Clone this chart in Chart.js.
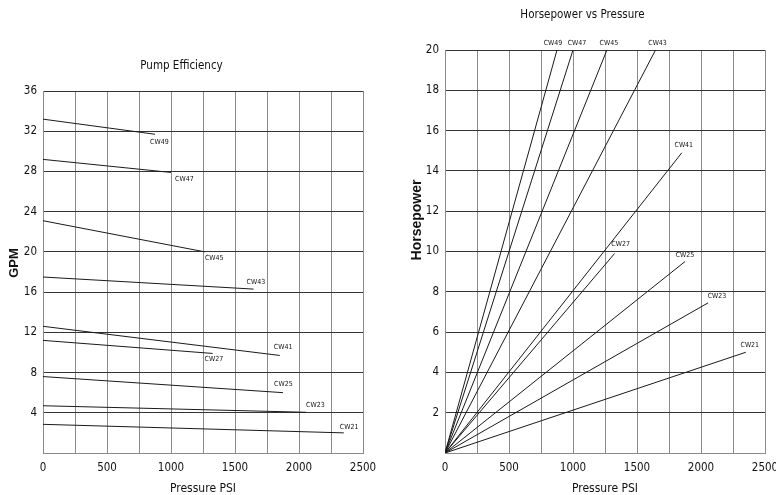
<!DOCTYPE html>
<html>
<head>
<meta charset="utf-8">
<script src="https://cdn.jsdelivr.net/npm/chart.js@4.4.1/dist/chart.umd.min.js"></script>
<style>
    body { margin: 0; background: #fff; }
    .box { position: absolute; top: 0; height: 495px; }
    #leftBox { left: 0; width: 400px; }
    #rightBox { left: 400px; width: 376px; }
</style>
</head>
<body>
<div class="box" id="leftBox"><canvas id="efficiencyChart"></canvas></div>
<div class="box" id="rightBox"><canvas id="horsepowerChart"></canvas></div>
<script>
const models = ['CW49', 'CW47', 'CW45', 'CW43', 'CW41', 'CW27', 'CW25', 'CW23', 'CW21'];
const maxPsi = [875, 1000, 1265, 1645, 1850, 1325, 1875, 2055, 2350];
const gpmAtZero = [33.2, 29.2, 23.1, 17.5, 12.6, 11.2, 7.6, 4.7, 2.85];
const gpmAtMax = [31.7, 27.9, 20.0, 16.3, 9.7, 9.9, 6.0, 4.05, 2.0];
const hpAtMax = [20, 20, 20, 20, 14.9, 9.9, 9.5, 7.45, 5.0];
const psiTicks = [0, 500, 1000, 1500, 2000, 2500];

const narrow = "'Liberation Sans Narrow', 'Arial Narrow', 'DejaVu Sans Condensed', sans-serif";
const plain = "'Liberation Sans', Arial, sans-serif";

// label offsets from the end of each line (pixels)
const effLabelOffsets = [[-5, 8], [4, 7], [0, 6], [-7, -7], [-6, -8], [-8, 6], [-9, -8], [0, -7], [-4, -6]];
const hpLabelOffsets = [[-4, -7], [4, -7], [2, -7], [2, -7], [2, -8], [6, -9], [0, -6], [9, -7], [4, -7]];

const lineLabels = {
    id: 'lineLabels',
    afterDatasetsDraw(chart, args, opts) {
        const ctx = chart.ctx;
        ctx.save();
        ctx.font = '7px ' + narrow;
        ctx.fillStyle = '#111';
        ctx.textAlign = opts.align;
        ctx.textBaseline = 'middle';
        chart.data.datasets.forEach((ds, i) => {
            const last = ds.data[ds.data.length - 1];
            const px = chart.scales.x.getPixelForValue(last.x);
            const py = chart.scales.y.getPixelForValue(last.y);
            const off = opts.offsets[i];
            ctx.fillText(ds.label, px + off[0], py + off[1]);
        });
        ctx.restore();
    }
};

const sideTitle = {
    id: 'sideTitle',
    afterDraw(chart, args, opts) {
        const ctx = chart.ctx;
        ctx.save();
        ctx.translate(opts.x, opts.y);
        ctx.rotate(-Math.PI / 2);
        ctx.font = 'bold ' + opts.size + 'px ' + plain;
        ctx.fillStyle = '#111';
        ctx.textAlign = 'center';
        ctx.textBaseline = 'middle';
        ctx.fillText(opts.text, 0, 0);
        ctx.restore();
    }
};

function xScale() {
    return {
        type: 'linear',
        min: 0,
        max: 2500,
        afterFit: s => {
            s.height = 42;
            s.paddingLeft = 0;
            s.paddingRight = 0;
        },
        ticks: {
            stepSize: 250,
            padding: 8,
            color: '#111',
            font: { family: narrow, size: 11.5 },
            maxRotation: 0,
            autoSkip: false,
            callback: v => psiTicks.includes(v) ? String(v) : ''
        },
        grid: { color: '#8a8a8a', lineWidth: 1, drawTicks: false },
        border: { color: '#8a8a8a' },
        title: {
            display: true,
            text: 'Pressure PSI',
            color: '#111',
            font: { family: narrow, size: 12, lineHeight: 1.2 },
            padding: { top: 0, bottom: -1 }
        }
    };
}

function yScale(max, step, width) {
    return {
        type: 'linear',
        min: 0,
        max: max,
        afterFit: s => { s.width = width; },
        ticks: {
            stepSize: step,
            padding: 6,
            color: '#111',
            font: { family: narrow, size: 11.5 },
            callback: v => v === 0 ? '' : String(v)
        },
        grid: { color: '#333', lineWidth: 1, drawTicks: false },
        border: { color: '#8a8a8a' }
    };
}

function lineSets(endY, startY) {
    return models.map((m, i) => ({
        label: m,
        data: [{ x: 0, y: startY ? startY[i] : 0 }, { x: maxPsi[i], y: endY[i] }],
        borderColor: '#1a1a1a',
        borderWidth: 1,
        pointRadius: 0,
        showLine: true,
        fill: false
    }));
}

document.addEventListener("DOMContentLoaded", function () {
    // ===== Pump Efficiency =====
    new Chart(document.getElementById('efficiencyChart'), {
        type: 'scatter',
        data: { datasets: lineSets(gpmAtMax, gpmAtZero) },
        options: {
            responsive: true,
            maintainAspectRatio: false,
            animation: false,
            layout: { padding: { left: 0, right: 37, top: 0, bottom: 0 } },
            scales: { x: xScale(), y: yScale(36, 4, 43) },
            plugins: {
                legend: { display: false },
                tooltip: { enabled: false },
                title: {
                    display: true,
                    text: 'Pump Efficiency',
                    color: '#111',
                    font: { family: narrow, size: 11.5, weight: 'normal', lineHeight: 1.2 },
                    padding: { top: 59, bottom: 18.2 }
                },
                lineLabels: { align: 'left', offsets: effLabelOffsets },
                sideTitle: { text: 'GPM', x: 14, y: 263, size: 13 }
            }
        },
        plugins: [lineLabels, sideTitle]
    });

    // ===== Horsepower vs Pressure =====
    new Chart(document.getElementById('horsepowerChart'), {
        type: 'scatter',
        data: { datasets: lineSets(hpAtMax) },
        options: {
            responsive: true,
            maintainAspectRatio: false,
            animation: false,
            layout: { padding: { left: 0, right: 11, top: 0, bottom: 0 } },
            scales: { x: xScale(), y: yScale(20, 2, 45) },
            plugins: {
                legend: { display: false },
                tooltip: { enabled: false },
                title: {
                    display: true,
                    text: 'Horsepower vs Pressure',
                    color: '#111',
                    font: { family: narrow, size: 11.5, weight: 'normal', lineHeight: 1.2 },
                    padding: { top: 8, bottom: 28.2 }
                },
                lineLabels: { align: 'center', offsets: hpLabelOffsets },
                sideTitle: { text: 'Horsepower', x: 17, y: 220, size: 14 }
            }
        },
        plugins: [lineLabels, sideTitle]
    });
});
</script>
</body>
</html>
